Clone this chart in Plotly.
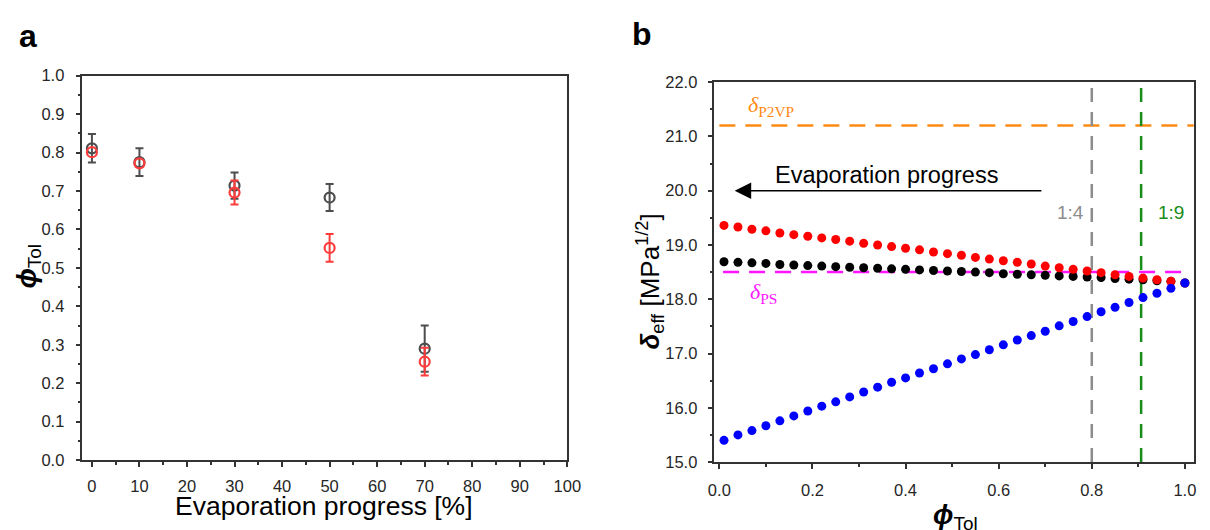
import plotly.graph_objects as go

# ---------------- Panel a data ----------------
evap_progress = [0, 10, 30, 50, 70]
phi_gray = [0.811, 0.775, 0.714, 0.683, 0.290]
phi_gray_err = [0.037, 0.036, 0.034, 0.035, 0.060]
phi_red = [0.801, 0.772, 0.696, 0.552, 0.256]
phi_red_err = [0.0, 0.0, 0.031, 0.036, 0.036]

# ---------------- Panel b data ----------------
phi_tol = [0.01, 0.04, 0.07, 0.10, 0.13, 0.16, 0.19, 0.22, 0.25, 0.28, 0.31, 0.34,
           0.37, 0.40, 0.43, 0.46, 0.49, 0.52, 0.55, 0.58, 0.61, 0.64, 0.67, 0.70,
           0.73, 0.76, 0.79, 0.82, 0.85, 0.88, 0.91, 0.94, 0.97, 1.00]
delta_red = [19.36, 19.33, 19.29, 19.26, 19.22, 19.19, 19.16, 19.13, 19.10, 19.07, 19.03, 19.00,
             18.97, 18.94, 18.91, 18.87, 18.84, 18.81, 18.77, 18.74, 18.71, 18.68, 18.65, 18.61,
             18.58, 18.55, 18.52, 18.49, 18.45, 18.42, 18.39, 18.36, 18.33, 18.30]
delta_black = [18.69, 18.68, 18.67, 18.66, 18.64, 18.63, 18.62, 18.61, 18.60, 18.59, 18.58, 18.57,
               18.56, 18.55, 18.54, 18.53, 18.52, 18.51, 18.50, 18.49, 18.47, 18.46, 18.45, 18.44,
               18.43, 18.42, 18.41, 18.40, 18.38, 18.37, 18.36, 18.34, 18.33, 18.30]
delta_blue = [15.40, 15.50, 15.58, 15.67, 15.76, 15.85, 15.94, 16.03, 16.11, 16.20, 16.29, 16.38,
              16.47, 16.55, 16.64, 16.72, 16.81, 16.90, 16.98, 17.07, 17.16, 17.25, 17.33, 17.41,
              17.51, 17.59, 17.68, 17.77, 17.85, 17.94, 18.03, 18.11, 18.20, 18.30]
delta_P2VP = 21.2
delta_PS = 18.5
ratio_lines = {"1:4": 0.8, "1:9": 0.906}
arrow_y = 20.0
arrow_from = 0.695
arrow_to = 0.033

FONT = "Liberation Sans, Arial, sans-serif"
SERIF = "Liberation Serif, Times New Roman, serif"
AXC = "#333333"
TICKC = "#262626"

fig = go.Figure()

# ---- panel a ----
fig.add_trace(go.Scatter(
    x=evap_progress, y=phi_gray, mode="markers", xaxis="x", yaxis="y",
    marker=dict(symbol="circle-open", size=10, color="#4d4d4d", line=dict(width=2.2, color="#4d4d4d")),
    error_y=dict(type="data", array=phi_gray_err, color="#4d4d4d", thickness=2, width=4),
))
idx = [i for i, e in enumerate(phi_red_err) if e > 0]
fig.add_trace(go.Scatter(
    x=[evap_progress[i] for i in idx], y=[phi_red[i] for i in idx], mode="markers",
    xaxis="x", yaxis="y",
    marker=dict(size=1, color="rgba(0,0,0,0)"),
    error_y=dict(type="data", array=[phi_red_err[i] for i in idx], color="#ff3c3c", thickness=2, width=4),
))
fig.add_trace(go.Scatter(
    x=evap_progress, y=phi_red, mode="markers", xaxis="x", yaxis="y",
    marker=dict(symbol="circle-open", size=10, color="#ff3c3c", line=dict(width=2.2, color="#ff3c3c")),
))

# ---- panel b lines ----
dash = "16px,10px"
fig.add_trace(go.Scatter(x=[0.0, 1.03], y=[delta_P2VP, delta_P2VP], mode="lines", xaxis="x2", yaxis="y2",
                         line=dict(color="#ff8a14", width=2.5, dash=dash)))
fig.add_trace(go.Scatter(x=[0.008, 1.0], y=[delta_PS, delta_PS], mode="lines", xaxis="x2", yaxis="y2",
                         line=dict(color="#ff14ff", width=2.5, dash=dash)))
fig.add_trace(go.Scatter(x=[ratio_lines["1:4"]] * 2, y=[15, 22], mode="lines", xaxis="x2", yaxis="y2",
                         line=dict(color="#8c8c8c", width=2.5, dash="14px,10px")))
fig.add_trace(go.Scatter(x=[ratio_lines["1:9"]] * 2, y=[15, 22], mode="lines", xaxis="x2", yaxis="y2",
                         line=dict(color="#1a8c1a", width=2.5, dash="14px,10px")))

# ---- panel b points ----
fig.add_trace(go.Scatter(x=phi_tol, y=delta_black, mode="markers", xaxis="x2", yaxis="y2",
                         marker=dict(size=9, color="#000000")))
fig.add_trace(go.Scatter(x=phi_tol, y=delta_red, mode="markers", xaxis="x2", yaxis="y2",
                         marker=dict(size=9, color="#ff0000")))
fig.add_trace(go.Scatter(x=phi_tol, y=delta_blue, mode="markers", xaxis="x2", yaxis="y2",
                         marker=dict(size=9, color="#0000ff")))

common_axis = dict(showline=True, linecolor=AXC, linewidth=1.5, mirror=True, showgrid=False,
                   zeroline=False, ticks="outside", ticklen=5, tickwidth=1.5, tickcolor=AXC,
                   tickfont=dict(family=FONT, size=16.5, color=TICKC))

fig.update_layout(
    width=1210, height=530, margin=dict(l=0, r=0, t=0, b=0),
    paper_bgcolor="white", plot_bgcolor="white", showlegend=False,
    xaxis=dict(domain=[0.0642, 0.4717], range=[-2, 100], tick0=0, dtick=10, anchor="y",
               minor=dict(ticks="outside", dtick=5, ticklen=3, tickwidth=1.5, tickcolor=AXC),
               ticklabelstandoff=5, **common_axis),
    yaxis=dict(domain=[0.1189, 0.8698], range=[0, 1], tick0=0, dtick=0.1, tickformat=".1f", anchor="x",
               minor=dict(ticks="outside", dtick=0.05, ticklen=3, tickwidth=1.5, tickcolor=AXC),
               ticklabelstandoff=8, **common_axis),
    xaxis2=dict(domain=[0.5953, 0.9981], range=[-0.0106, 1.019], tick0=0, dtick=0.2, tickformat=".1f",
                anchor="y2",
                minor=dict(ticks="outside", dtick=0.1, ticklen=3, tickwidth=1.5, tickcolor=AXC),
                ticklabelstandoff=7, **common_axis),
    yaxis2=dict(domain=[0.1151, 0.8572], range=[15, 22], tick0=15, dtick=1, tickformat=".1f", anchor="x2",
                minor=dict(ticks="outside", dtick=0.5, ticklen=3, tickwidth=1.5, tickcolor=AXC),
                ticklabelstandoff=7, **common_axis),
)

def px(x):
    return x / 1210.0

def py(y):
    return 1 - y / 530.0

ann = []
ann.append(dict(text="<b>a</b>", x=px(22), y=py(28), xref="paper", yref="paper", showarrow=False,
                font=dict(family=FONT, size=32, color="black"), xanchor="center", yanchor="middle"))
ann.append(dict(text="<b>b</b>", x=px(647), y=py(26), xref="paper", yref="paper", showarrow=False,
                font=dict(family=FONT, size=32, color="black"), xanchor="center", yanchor="middle"))
ann.append(dict(text="<b><i>ϕ</i></b><sub>Tol</sub>", x=px(23), y=py(266), xref="paper", yref="paper",
                showarrow=False, textangle=-90, font=dict(family=FONT, size=27, color="black"),
                xanchor="center", yanchor="middle"))
ann.append(dict(text="Evaporation progress [%]", x=px(323), y=py(530), xref="paper", yref="paper",
                showarrow=False, font=dict(family=FONT, size=26.5, color="black"),
                xanchor="center", yanchor="bottom", yshift=-2))
ann.append(dict(text="<b><i>δ</i></b><sub>eff</sub> [MPa<sup>1/2</sup>]", x=px(655), y=py(282),
                xref="paper", yref="paper", showarrow=False, textangle=-90,
                font=dict(family=FONT, size=26, color="black"), xanchor="center", yanchor="middle"))
ann.append(dict(text="<b><i>ϕ</i></b><sub>Tol</sub>", x=px(965), y=py(506), xref="paper", yref="paper",
                showarrow=False, font=dict(family=FONT, size=27, color="black"),
                xanchor="center", yanchor="top"))
ann.append(dict(text="<i>δ</i><sub>P2VP</sub>", x=px(752), y=py(100), xref="paper", yref="paper",
                showarrow=False, font=dict(family=SERIF, size=22, color="#ff8a14"),
                xanchor="left", yanchor="middle"))
ann.append(dict(text="<i>δ</i><sub>PS</sub>", x=px(754), y=py(294), xref="paper", yref="paper",
                showarrow=False, font=dict(family=SERIF, size=22, color="#ff14ff"),
                xanchor="left", yanchor="middle"))
ann.append(dict(text="Evaporation progress", x=px(895), y=py(172), xref="paper", yref="paper",
                showarrow=False, font=dict(family=FONT, size=23.5, color="black"),
                xanchor="center", yanchor="middle"))
ann.append(dict(text="", x=arrow_to, y=arrow_y, ax=arrow_from, ay=arrow_y, xref="x2", yref="y2",
                axref="x2", ayref="y2", showarrow=True, arrowhead=2, arrowsize=2.2, arrowwidth=1.5,
                arrowcolor="black"))
ann.append(dict(text="1:4", x=px(1082), y=py(211), xref="paper", yref="paper", showarrow=False,
                font=dict(family=FONT, size=19, color="#8c8c8c"), xanchor="center", yanchor="middle"))
ann.append(dict(text="1:9", x=px(1185), y=py(211), xref="paper", yref="paper", showarrow=False,
                font=dict(family=FONT, size=19, color="#1a8c1a"), xanchor="center", yanchor="middle"))
fig.update_layout(annotations=ann)

fig.write_html("out.html")
